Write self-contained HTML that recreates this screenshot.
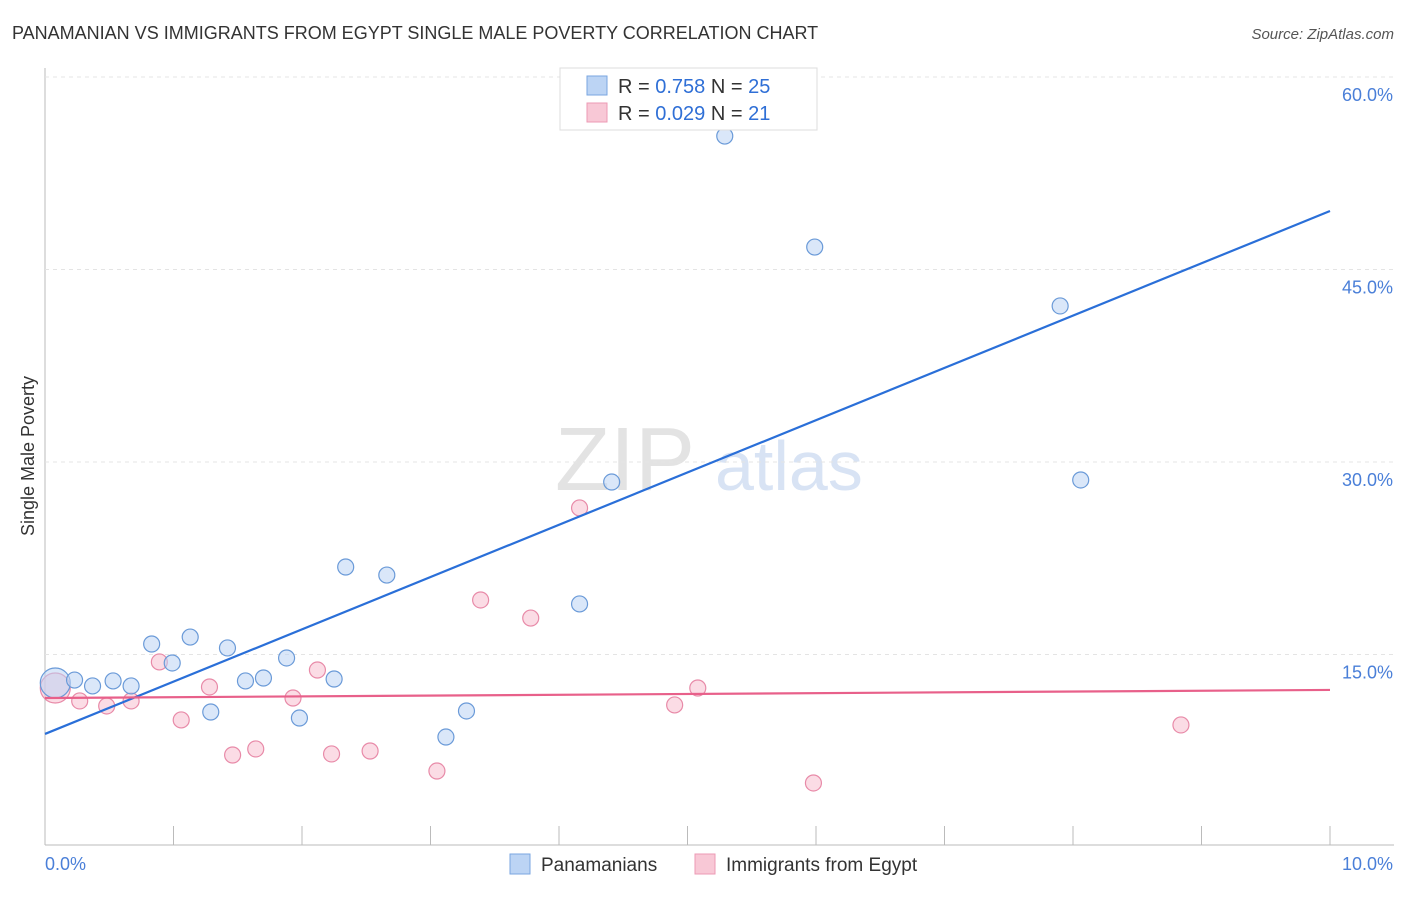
<!DOCTYPE html>
<html><head><meta charset="utf-8"><style>
body{margin:0;background:#fff;font-family:"Liberation Sans",sans-serif;}
svg text{font-family:"Liberation Sans",sans-serif;}
</style></head><body>
<svg id="c" width="1406" height="892" xmlns="http://www.w3.org/2000/svg">
<text x="12" y="39" font-size="18" fill="#333">PANAMANIAN VS IMMIGRANTS FROM EGYPT SINGLE MALE POVERTY CORRELATION CHART</text>
<text x="1394" y="39" font-size="15" fill="#555" text-anchor="end" font-style="italic">Source: ZipAtlas.com</text>
<text transform="translate(34,456) rotate(-90)" font-size="18" fill="#333" text-anchor="middle">Single Male Poverty</text>
<text x="555" y="490" font-size="90" fill="#ddd" font-family="Liberation Serif" opacity="0.8">ZIP</text>
<text x="715" y="490" font-size="70" fill="#c8d8f0" opacity="0.7">atlas</text>
<g id="grid"></g><g id="marks"></g>
<g>
<rect x="560" y="68" width="257" height="62" fill="#fff" stroke="#ddd"/>
<rect x="587" y="76" width="20" height="19" fill="#bcd4f4" stroke="#7aa6e0"/>
<text x="618" y="93" font-size="20" fill="#333">R = <tspan fill="#2f6fd6">0.758</tspan>   N = <tspan fill="#2f6fd6">25</tspan></text>
<rect x="587" y="103" width="20" height="19" fill="#f8c8d6" stroke="#ec9ab4"/>
<text x="618" y="120" font-size="20" fill="#333">R = <tspan fill="#2f6fd6">0.029</tspan>   N = <tspan fill="#2f6fd6"> 21</tspan></text>
</g>
<g>
<rect x="510" y="854" width="20" height="20" fill="#bcd4f4" stroke="#7aa6e0"/>
<text x="541" y="871" font-size="19" fill="#333">Panamanians</text>
<rect x="695" y="854" width="20" height="20" fill="#f8c8d6" stroke="#ec9ab4"/>
<text x="726" y="871" font-size="19" fill="#333">Immigrants from Egypt</text>
</g>
</svg>
<script>
const xTicks=[0,1,2,3,4,5,6,7,8,9,10];
const yTicks=[15,30,45,60];
const yTickLabels=["15.0%","30.0%","45.0%","60.0%"];
const blueX=[0.08,0.23,0.37,0.53,0.67,0.83,0.99,1.13,1.29,1.42,1.56,1.70,1.88,1.98,2.25,2.34,2.66,3.12,3.28,4.16,4.41,5.29,5.99,7.90,8.06];
const blueY=[12.78,13.01,12.55,12.94,12.55,15.82,14.34,16.36,10.52,15.51,12.94,13.17,14.73,10.05,13.09,21.82,21.19,8.57,10.60,18.94,28.44,55.40,46.75,42.16,28.60];
const pinkX=[0.08,0.27,0.48,0.67,0.89,1.06,1.28,1.46,1.64,1.93,2.12,2.23,2.53,3.05,3.39,3.78,4.16,4.90,5.08,5.98,8.84];
const pinkY=[12.39,11.38,10.99,11.38,14.42,9.90,12.47,7.17,7.64,11.61,13.79,7.25,7.48,5.92,19.25,17.84,26.42,11.07,12.39,4.99,9.51];
const blueLine=[8.81,49.56];
const pinkLine=[11.61,12.24];
const NS="http://www.w3.org/2000/svg";
const xs=v=>45+v*128.5, ys=v=>847-v*12.833;
function mk(t,a,p){const e=document.createElementNS(NS,t);for(const k in a)e.setAttribute(k,a[k]);p.appendChild(e);return e;}
const g=document.getElementById('grid'),m=document.getElementById('marks');
const ax=mk('line',{x1:45,y1:845,x2:1394,y2:845,stroke:'#bbb'},g);


const ay=mk('line',{x1:45,y1:68,x2:45,y2:845,stroke:'#bbb'},g);


xTicks.forEach(t=>{const l=mk('line',{x1:xs(t),y1:826,x2:xs(t),y2:845,stroke:'#bbb'},g);

});
yTicks.forEach((t,i)=>{const l=mk('line',{x1:45,y1:ys(t),x2:1394,y2:ys(t),stroke:'#e4e4e4','stroke-dasharray':'4,4'},g);


const tx=mk('text',{x:1393,y:ys(t)+24,'font-size':18,fill:'#4a7fd8','text-anchor':'end'},g);tx.textContent=yTickLabels[i];

});
const x0=mk('text',{x:45,y:870,'font-size':18,fill:'#4a7fd8'},g);x0.textContent='0.0%';


const x1=mk('text',{x:1393,y:870,'font-size':18,fill:'#4a7fd8','text-anchor':'end'},g);x1.textContent='10.0%';


function pts(X,Y,fill,stroke,name){X.forEach((x,i)=>{const c=mk('circle',{cx:xs(x),cy:ys(Y[i]),r:i==0?15:8,fill:fill,'fill-opacity':0.55,stroke:stroke,'stroke-width':1.2},m);

});}
pts(pinkX,pinkY,'#f8c0d0','#e88aa8','egypt-point');
pts(blueX,blueY,'#bcd4f4','#6a9ad8','panamanian-point');
const bl=mk('line',{x1:xs(0),y1:ys(blueLine[0]),x2:xs(10),y2:ys(blueLine[1]),stroke:'#2a6fd8','stroke-width':2.2},m);


const pl=mk('line',{x1:xs(0),y1:ys(pinkLine[0]),x2:xs(10),y2:ys(pinkLine[1]),stroke:'#e8608a','stroke-width':2.2},m);


</script>
</body></html>
